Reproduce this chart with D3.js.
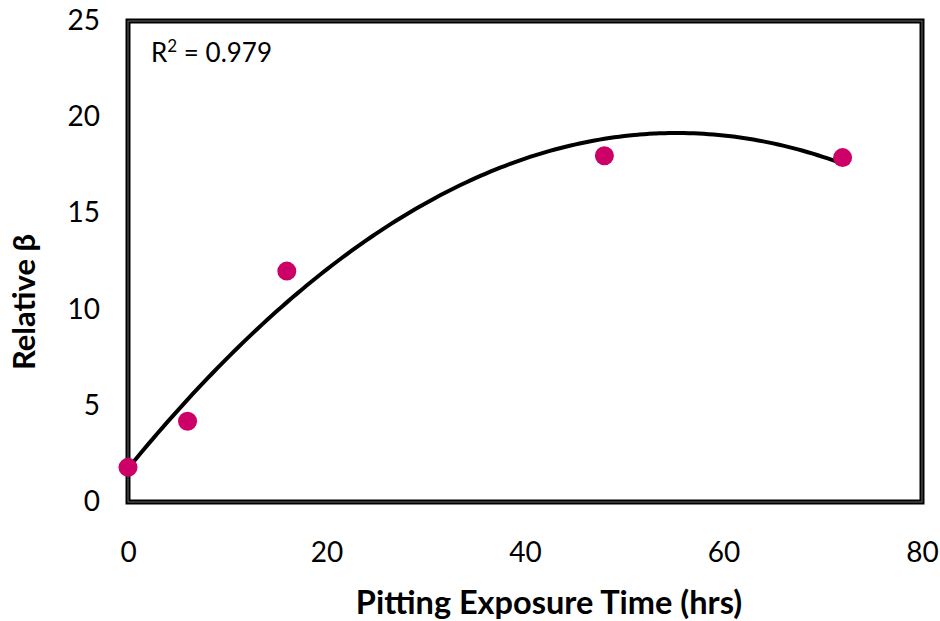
<!DOCTYPE html>
<html>
<head>
<meta charset="utf-8">
<script src="https://cdn.jsdelivr.net/npm/d3@7"></script>
<style>
  body { margin: 0; background: #fff; }
  text { font-family: Lato, "Open Sans", sans-serif; fill: #000; }
</style>
</head>
<body>
<div id="chart"></div>
<script>
// data
let hours = [0, 6, 16, 48, 72];
let beta = [1.8, 4.2, 12, 18, 17.9];
let xTicks = [0, 20, 40, 60, 80];
let yTicks = [0, 5, 10, 15, 20, 25];
let r2Label = "0.979";

let svg = d3.select("#chart")
              .append("svg")
                .attr("width", 940)
                .attr("height", 621)
;

let x = d3.scaleLinear().domain([0, 80]).range([128, 922]);
let y = d3.scaleLinear().domain([0, 25]).range([502, 21]);

// 2nd order polynomial trendline (least squares, like excel does)
function polyFit(xs, ys){
  let s = [0,0,0,0,0], t = [0,0,0];
  for(let i = 0; i < xs.length; i++){
    for(let k = 0; k < 5; k++) s[k] += Math.pow(xs[i], k);
    for(let k = 0; k < 3; k++) t[k] += ys[i] * Math.pow(xs[i], k);
  }
  let m = [[s[0],s[1],s[2],t[0]],[s[1],s[2],s[3],t[1]],[s[2],s[3],s[4],t[2]]];
  for(let i = 0; i < 3; i++){
    for(let j = i+1; j < 3; j++){
      let f = m[j][i] / m[i][i];
      for(let k = i; k < 4; k++) m[j][k] -= f * m[i][k];
    }
  }
  let c = [0,0,0];
  for(let i = 2; i >= 0; i--){
    let v = m[i][3];
    for(let k = i+1; k < 3; k++) v -= m[i][k] * c[k];
    c[i] = v / m[i][i];
  }
  return c;
}
let coef = polyFit(hours, beta);
let fitPts = d3.range(0, 72.01, 0.5).map(function(h){
  return {h: h, b: coef[0] + coef[1]*h + coef[2]*h*h};
});

// frame
svg.append("rect")
    .attr("x", x(0)).attr("y", y(25))
    .attr("width", x(80) - x(0)).attr("height", y(0) - y(25))
    .attr("fill", "none")
    .attr("stroke", "#000")
    .attr("stroke-width", 5)
;
svg.append("rect")
    .attr("x", x(0)).attr("y", y(25))
    .attr("width", x(80) - x(0)).attr("height", y(0) - y(25))
    .attr("fill", "none")
    .attr("stroke", "#666")
    .attr("stroke-width", 1)
;

// axes, labels only
let xAxis = d3.axisBottom(x).tickValues(xTicks).tickSize(0).tickPadding(60);
svg.append("g")
    .attr("transform", "translate(0," + y(0) + ")")
    .call(xAxis)
    .call(function(g){ g.select(".domain").remove(); })
    .selectAll("text")
      .style("font-size", "28px")
      .attr("dy", "0")
;

let yAxis = d3.axisLeft(y).tickValues(yTicks).tickSize(0).tickPadding(28);
svg.append("g")
    .attr("transform", "translate(" + x(0) + ",0)")
    .call(yAxis)
    .call(function(g){ g.select(".domain").remove(); })
    .selectAll("text")
      .style("font-size", "28px")
      .attr("dy", "0.3em")
;

// trendline
let line = d3.line()
              .x(function(d){ return x(d.h); })
              .y(function(d){ return y(d.b); })
              .curve(d3.curveBasis)
;
svg.append("path")
    .attr("d", line(fitPts))
    .attr("fill", "none")
    .attr("stroke", "#000")
    .attr("stroke-width", 4)
;

// points
svg.selectAll("circle.pt")
    .data(hours)
    .enter()
    .append("circle")
      .attr("class", "pt")
      .attr("cx", function(d){ return x(d); })
      .attr("cy", function(d, i){ return y(beta[i]); })
      .attr("r", 9.5)
      .attr("fill", "#cc0066")
;

// r squared
let r2 = svg.append("text")
    .attr("x", 151)
    .attr("y", 62)
    .style("font-size", "26px")
;
r2.append("tspan").text("R");
r2.append("tspan").attr("dy", -10).style("font-size", "17px").text("2");
r2.append("tspan").attr("dy", 10).text(" = " + r2Label);

// axis titles
svg.append("text")
    .attr("x", 549)
    .attr("y", 614)
    .attr("text-anchor", "middle")
    .style("font-size", "32.5px")
    .style("font-weight", "bold")
    .text("Pitting Exposure Time (hrs)")
;

svg.append("text")
    .attr("transform", "translate(35,302) rotate(-90)")
    .attr("text-anchor", "middle")
    .style("font-size", "31px")
    .style("font-weight", "bold")
    .text("Relative β")
;
</script>
</body>
</html>
